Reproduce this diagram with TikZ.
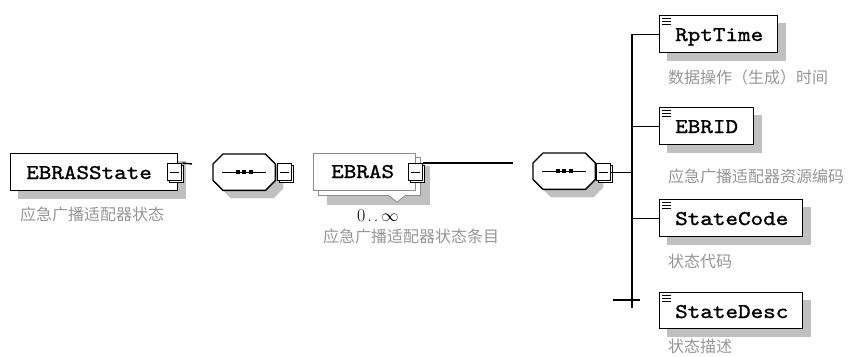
\documentclass[tikz,border=0pt]{standalone}
\usepackage{fontspec}
\usepackage{graphicx}
\newfontfamily\cjk{Noto Sans CJK SC}
\newfontfamily\boxfont[FakeStretch=1.14,FakeBold=1.2]{lmmono10-regular.otf}
\usetikzlibrary{backgrounds}
\definecolor{shgray}{RGB}{192,192,192}
\definecolor{labelgray}{RGB}{150,150,150}
\definecolor{framegray}{RGB}{140,140,140}
\newcommand\boxtext[1]{{\boxfont\fontsize{21}{24}\selectfont #1}}
\begin{document}
\begin{tikzpicture}[x=1pt,y=-1pt,
  elem/.style={draw=black, line width=1.4pt, fill=white, anchor=north west, inner sep=0pt},
  repbox/.style={draw=framegray, line width=0.8pt, fill=white, anchor=north west, inner sep=0pt},
  seqbox/.style={anchor=north west, inner sep=0pt, minimum width=62pt, minimum height=36pt},
  octa/.style={draw=black, line width=1.4pt, fill=white, line join=miter},
  minusb/.style={draw=black, line width=1.4pt, fill=white, anchor=north west, inner sep=0pt,
    minimum width=14pt, minimum height=17pt},
  btext/.style={anchor=base west, inner sep=0pt},
  lbl/.style={anchor=west, inner sep=0pt, text=labelgray, font=\cjk\fontsize{16}{18}\selectfont},
  conn/.style={draw=black, line width=1.4pt},
  shad/.style={fill=shgray, draw=none}
]
\useasboundingbox (0,0) rectangle (851,356);
\newcommand\minbox[3]{%
  \draw[line width=1.1pt, fill=white] (#2+2.5,#3+2.5) rectangle ++(14,17);
  \node[minusb] (#1) at (#2,#3) {};
  \draw[line width=1.1pt] ([xshift=-4.5pt]#1.center) -- ([xshift=4.5pt]#1.center);
}
\newcommand\elicon[1]{%
  \foreach \d in {3,6,9} {\draw[line width=0.9pt] ([shift={(3,\d)}]#1.north west) -- ++(9,0);}
}
\newcommand\octpath[3]{% node, dx, dy
  ([shift={(#2+10,#3)}]#1.north west) -- ([shift={(#2-10,#3)}]#1.north east)
  -- ([shift={(#2,#3+10)}]#1.north east) -- ([shift={(#2,#3-10)}]#1.south east)
  -- ([shift={(#2-10,#3)}]#1.south east) -- ([shift={(#2+10,#3)}]#1.south west)
  -- ([shift={(#2,#3-10)}]#1.south west) -- ([shift={(#2,#3+10)}]#1.north west) -- cycle
}
\newcommand\seqglyph[1]{%
  \fill[shgray] \octpath{#1}{8}{8};
  \draw[octa] \octpath{#1}{0}{0};
  \draw[line width=1.2pt] ([xshift=-22pt]#1.center) -- ([xshift=22pt]#1.center);
  \foreach \s in {-6.5,0,6.5} {\fill ([xshift=\s pt]#1.center) +(-2,-2) rectangle +(2,2);}
}
\newcommand\boxshadow[1]{%
  \begin{pgfonlayer}{background}
  \path[shad] ([shift={(8,8)}]#1.north west) rectangle ([shift={(8,8)}]#1.south east);
  \end{pgfonlayer}
}

% EBRASState
\node[elem, minimum width=167pt, minimum height=37pt] (st) at (10,153) {};
\boxshadow{st}
\node[btext] (stt) at (26,179) {\boxtext{EBRASState}};
\minbox{stm}{167}{163}
\coordinate (stend) at (192,164);
\draw[conn] (stm.north east) -- (stend);
\node[lbl] (stl) at (20,214) {应急广播适配器状态};

% sequence 1
\node[seqbox] (s1) at (213,154) {};
\seqglyph{s1}
\minbox{s1m}{277}{163}

% EBRAS (repeated)
\path[shad] (327,166) rectangle (430,205);
\node[repbox, minimum width=102pt, minimum height=38pt] (ebb) at (318,157) {};
\filldraw[draw=framegray, fill=white, line width=0.8pt] (388,195) -- (397,202) -- (406,195);
\node[repbox, minimum width=102pt, minimum height=37pt] (eb) at (313,153) {};
\node[btext] (ebt) at (331,178) {\boxtext{EBRAS}};
\minbox{ebm}{408}{163}
\coordinate (ebend) at (513,163);
\draw[conn] (ebm.north east) -- (ebend);
\node[anchor=west, inner sep=0pt] (mult) at (357,216) {\fontsize{18}{20}\selectfont 0\kern2pt.\kern2pt.\kern3pt$\infty$};
\node[lbl] (ebl) at (323,236) {应急广播适配器状态条目};

% sequence 2
\node[seqbox] (s2) at (533,153) {};
\seqglyph{s2}
\minbox{s2m}{596}{163}

% children
\node[elem, minimum width=118pt, minimum height=37pt] (rt) at (659,15) {};
\boxshadow{rt}
\elicon{rt}
\node[btext] (rtt) at (675,41) {\boxtext{RptTime}};
\node[lbl] (rtl) at (668,77) {数据操作（生成）时间};

\node[elem, minimum width=94pt, minimum height=37pt] (ei) at (659,107) {};
\boxshadow{ei}
\elicon{ei}
\node[btext] (eit) at (675,133) {\boxtext{EBRID}};
\node[lbl] (eil) at (668,176) {应急广播适配器资源编码};

\node[elem, minimum width=143pt, minimum height=37pt] (sc) at (659,199) {};
\boxshadow{sc}
\elicon{sc}
\node[btext] (sct) at (675,225) {\boxtext{StateCode}};
\node[lbl] (scl) at (668,261) {状态代码};

\node[elem, minimum width=143pt, minimum height=36pt] (sd) at (659,292) {};
\boxshadow{sd}
\elicon{sd}
\node[btext] (sdt) at (675,318) {\boxtext{StateDesc}};
\node[lbl] (sdl) at (668,346) {状态描述};

% bus
\coordinate (bx) at (632,0);
\coordinate (bb) at (632,308);
\coordinate (cl) at (613,300);
\coordinate (cr) at (640,300);
\draw[conn] (rt.west -| bx) -- (bb);
\draw[conn] (rt.west -| bx) -- (rt.west);
\draw[conn] (ei.west -| bx) -- (ei.west);
\draw[conn] (sc.west -| bx) -- (sc.west);
\draw[conn] (s2m.east) -- (s2m.east -| bx);
\draw[conn] (cl) -- (cr);
\end{tikzpicture}
\end{document}
